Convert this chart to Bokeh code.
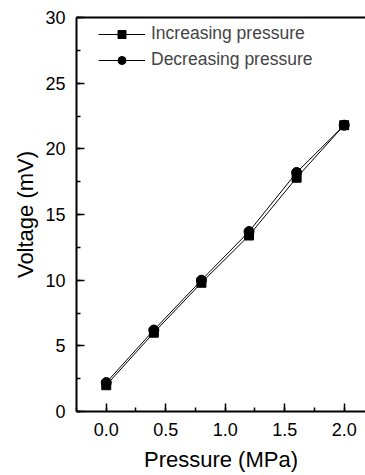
from bokeh.plotting import figure
from bokeh.models import (LinearAxis, SingleIntervalTicker, NumeralTickFormatter,
                          FixedTicker, Range1d, Legend, LegendItem)
from bokeh.embed import file_html
from bokeh.resources import INLINE

pressure = [0.0, 0.4, 0.8, 1.2, 1.6, 2.0]
v_increasing = [2.0, 6.0, 9.8, 13.4, 17.8, 21.8]
v_decreasing = [2.2, 6.2, 10.0, 13.7, 18.2, 21.8]
series_labels = ["Increasing pressure", "Decreasing pressure"]

FONT = "Liberation Sans"

p = figure(width=365, height=475, output_backend="svg", toolbar_location=None,
           x_range=Range1d(-0.25, 2.179), y_range=Range1d(0, 30),
           x_axis_type=None, y_axis_type=None,
           min_border_left=76, min_border_right=0, min_border_top=17, min_border_bottom=64)
p.outline_line_color = None
p.grid.visible = False
p.background_fill_color = "white"

def style_axis(ax):
    ax.axis_line_width = 2
    ax.axis_line_color = "black"
    ax.major_tick_in = 8
    ax.major_tick_out = 0
    ax.minor_tick_in = 4
    ax.minor_tick_out = 0
    ax.major_tick_line_width = 1.5
    ax.minor_tick_line_width = 1.5
    ax.major_label_text_font = FONT
    ax.major_label_text_font_size = "18px"
    ax.major_label_text_color = "black"
    ax.axis_label_text_font = FONT
    ax.axis_label_text_font_size = "22px"
    ax.axis_label_text_font_style = "normal"
    ax.axis_label_text_color = "black"

xax = LinearAxis(ticker=SingleIntervalTicker(interval=0.5, num_minor_ticks=2),
                 formatter=NumeralTickFormatter(format="0.0"), axis_label="Pressure (MPa)")
style_axis(xax)
xax.major_label_standoff = 11
xax.axis_label_standoff = 8
p.add_layout(xax, "below")

yax = LinearAxis(ticker=SingleIntervalTicker(interval=5, num_minor_ticks=2),
                 axis_label="Voltage (mV)")
style_axis(yax)
yax.major_label_standoff = 11
yax.axis_label_standoff = 4
p.add_layout(yax, "left")

# plain top border line (no ticks, no labels)
top = LinearAxis(ticker=FixedTicker(ticks=[]))
top.axis_line_width = 2
top.axis_line_color = "black"
top.major_tick_line_color = None
top.minor_tick_line_color = None
top.major_label_standoff = 0
p.add_layout(top, "above")

l1 = p.line(pressure, v_increasing, line_color="black", line_width=1)
s1 = p.scatter(pressure, v_increasing, marker="square", size=9, color="black")
l2 = p.line(pressure, v_decreasing, line_color="black", line_width=1)
s2 = p.scatter(pressure, v_decreasing, marker="circle", size=10, color="black")

legend = Legend(items=[LegendItem(label=series_labels[0], renderers=[l1, s1]),
                       LegendItem(label=series_labels[1], renderers=[l2, s2])],
                location=(22, 341))
legend.border_line_color = None
legend.background_fill_alpha = 0
legend.glyph_width = 47
legend.glyph_height = 20
legend.label_text_font = FONT
legend.label_text_font_size = "17.5px"
legend.label_standoff = 6
legend.spacing = 5
legend.padding = 2
legend.margin = 0
p.add_layout(legend)

open("out.html", "w").write(file_html(p, INLINE))
